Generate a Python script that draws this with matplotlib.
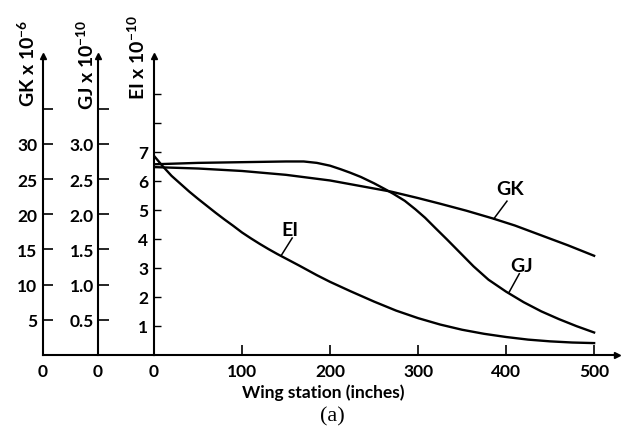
import numpy as np
import matplotlib.pyplot as plt

# stiffness distributions along the wing
# EI in units of 10^10, GJ in 10^10, GK in 10^6
ei_x = [0, 10, 20, 30, 40, 50, 60, 70, 80, 90, 100, 110, 120, 130, 140, 150, 165, 185, 200, 223,
        250, 275, 300, 325, 350, 375, 400, 425, 450, 475, 500]
ei_y = [6.86, 6.5, 6.17, 5.9, 5.63, 5.38, 5.14, 4.9, 4.67, 4.45, 4.22, 4.02, 3.83, 3.65, 3.48, 3.32, 3.08, 2.75, 2.52, 2.2,
        1.84, 1.53, 1.27, 1.05, 0.87, 0.73, 0.62, 0.53, 0.47, 0.43, 0.41]

gj_x = [0, 50, 100, 150, 170, 185, 200, 212, 223, 235, 250, 262, 272, 285, 297, 308, 320, 333, 348, 363,
        380, 400, 420, 440, 460, 480, 500]
gj_y = [2.71, 2.73, 2.74, 2.75, 2.75, 2.73, 2.69, 2.64, 2.59, 2.53, 2.44, 2.36, 2.29, 2.19, 2.07, 1.95, 1.8, 1.64, 1.45, 1.26,
        1.07, 0.9, 0.75, 0.62, 0.51, 0.41, 0.32]

gk_x = [0, 50, 100, 150, 200, 235, 270, 300, 325, 355, 385, 410, 440, 470, 500]
gk_y = [26.7, 26.5, 26.15, 25.6, 24.8, 24.0, 23.2, 22.3, 21.5, 20.5, 19.4, 18.4, 17.0, 15.6, 14.1]

x_ticks = [0, 100, 200, 300, 400, 500]
ei_ticks = [1, 2, 3, 4, 5, 6, 7, 8, 9]
ei_labels = ['1', '2', '3', '4', '5', '6', '7', '', '']
gk_ticks = [5, 10, 15, 20, 25, 30, 35]
gk_labels = ['5', '10', '15', '20', '25', '30', '']
gj_ticks = [0.5, 1.0, 1.5, 2.0, 2.5, 3.0, 3.5]
gj_labels = ['0.5', '1.0', '1.5', '2.0', '2.5', '3.0', '']

plt.rcParams['font.family'] = 'Lato'
plt.rcParams['font.size'] = 12.5
plt.rcParams['font.weight'] = 'bold'
plt.rcParams['mathtext.default'] = 'regular'

W, H = 627, 439
fig = plt.figure(figsize=(W / 100, H / 100), dpi=100)

y_bot, y_top = 356, 57  # pixel rows of the zero line and the arrow tips
xmax = 526
eimax = 10.3
gk_scale = 4.125
gj_scale = 0.4125
lw = 1.5


def px_rect(left, right):
    return [left / W, 1 - y_bot / H, (right - left) / W, (y_bot - y_top) / H]


def strip(a, keep):
    for s in ['left', 'right', 'top', 'bottom']:
        a.spines[s].set_visible(s in keep)
        a.spines[s].set_linewidth(lw)
    a.set_facecolor('none')


# GK scale (far left)
ax_gk = fig.add_axes(px_rect(43, 154))
strip(ax_gk, ['left', 'bottom'])
ax_gk.set_xlim(0, 1)
ax_gk.set_ylim(0, eimax * gk_scale)
ax_gk.set_yticks(gk_ticks, gk_labels)
ax_gk.set_xticks([0], ['0'])
ax_gk.tick_params(axis='y', direction='in', length=7, width=1.2, pad=4)
ax_gk.tick_params(axis='x', length=0, pad=6)
ax_gk.plot(0, 1, '^k', ms=5, transform=ax_gk.transAxes, clip_on=False)

# GJ scale
ax_gj = fig.add_axes(px_rect(98, 154))
strip(ax_gj, ['left'])
ax_gj.set_xlim(0, 1)
ax_gj.set_ylim(0, eimax * gj_scale)
ax_gj.set_yticks(gj_ticks, gj_labels)
ax_gj.set_xticks([0], ['0'])
ax_gj.tick_params(axis='y', direction='in', length=8, width=1.2, pad=3)
ax_gj.tick_params(axis='x', length=0, pad=6)
ax_gj.plot(0, 1, '^k', ms=5, transform=ax_gj.transAxes, clip_on=False)

# main axes, EI scale
ax = fig.add_axes(px_rect(154, 617))
strip(ax, ['left', 'bottom'])
ax.set_xlim(0, xmax)
ax.set_ylim(0, eimax)
ax.set_xticks(x_ticks)
ax.set_yticks(ei_ticks, ei_labels)
ax.tick_params(axis='x', direction='in', length=7, width=1.2, pad=6)
ax.tick_params(axis='y', direction='in', length=5, width=1.0, pad=4)
ax.plot(0, 1, '^k', ms=5, transform=ax.transAxes, clip_on=False)
ax.plot(1, 0, '>k', ms=5, transform=ax.transAxes, clip_on=False)
ax.set_xlabel('Wing station (inches)', fontsize=12.5, fontweight='bold')
ax.xaxis.set_label_coords(0.365, -0.095)

ax.plot(ei_x, ei_y, color='black', lw=1.7)

ax_gkc = ax.twinx()
ax_gkc.set_ylim(0, eimax * gk_scale)
ax_gkc.axis('off')
ax_gkc.plot(gk_x, gk_y, color='black', lw=1.7)

ax_gjc = ax.twinx()
ax_gjc.set_ylim(0, eimax * gj_scale)
ax_gjc.axis('off')
ax_gjc.plot(gj_x, gj_y, color='black', lw=1.7)

# curve labels with leader lines
ax.text(405, 5.72, 'GK', ha='center', va='center', fontsize=14)
ax.plot([401, 386], [5.3, 4.69], color='black', lw=1.1)
ax.text(418, 3.1, 'GJ', ha='center', va='center', fontsize=14)
ax.plot([415, 403], [2.8, 2.14], color='black', lw=1.1)
ax.text(155, 4.34, 'EI', ha='center', va='center', fontsize=14)
ax.plot([157, 145], [4.03, 3.45], color='black', lw=1.1)

# rotated scale titles
fig.text(27 / W, 1 - 107 / H, 'GK x 10$^{-6}$', rotation=90, ha='center', va='bottom', fontsize=14)
fig.text(86 / W, 1 - 110 / H, 'GJ x 10$^{-10}$', rotation=90, ha='center', va='bottom', fontsize=14)
fig.text(137 / W, 1 - 100 / H, 'EI x 10$^{-10}$', rotation=90, ha='center', va='bottom', fontsize=14)

fig.text(332 / W, 1 - 417 / H, '(a)', ha='center', va='center', fontsize=16,
         family='Liberation Serif', weight='normal')

fig.savefig('out.png', dpi=100)
